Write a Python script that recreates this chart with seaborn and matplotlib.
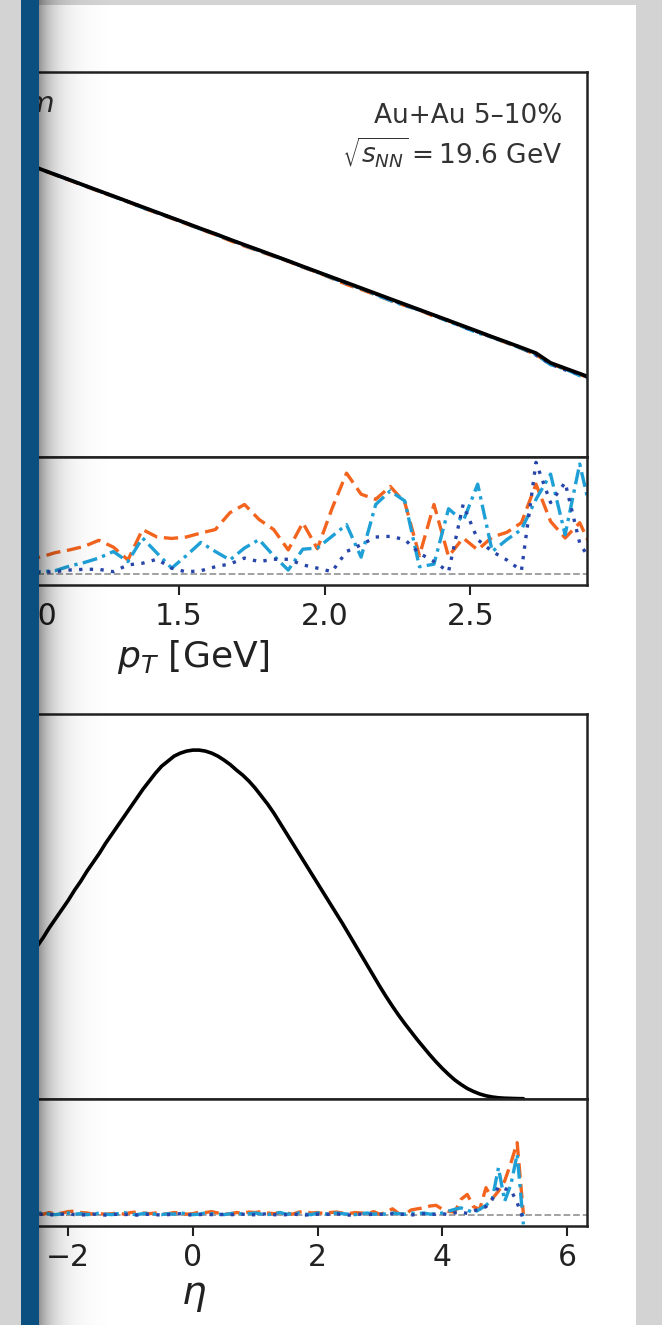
import numpy as np
import matplotlib
matplotlib.use("Agg")
import matplotlib.pyplot as plt
from matplotlib.patches import Rectangle
import seaborn as sns

# ---------------------------------------------------------------- data
# transverse-momentum spectrum (bin centres in GeV)
pt = np.round(np.arange(0.975, 2.93, 0.05), 3)
spectrum = [1.12, 0.98, 0.861, 0.757, 0.665, 0.584, 0.514, 0.451, 0.396, 0.348,
            0.306, 0.269, 0.236, 0.208, 0.182, 0.160, 0.141, 0.124, 0.109, 0.0955,
            0.0839, 0.0737, 0.0648, 0.0569, 0.0500, 0.0439, 0.0386, 0.0339, 0.0298, 0.0262,
            0.0230, 0.0202, 0.0177, 0.0156, 0.0137, 0.0120, 0.0095, 0.00835, 0.00735, 0.00646]

# relative deviation from the reference, in percent
dev_pt_a = [0.65, 0.72, 0.91, 1.03, 1.18, 1.44, 1.15, 0.60, 1.90, 1.58,
            1.52, 1.58, 1.75, 1.90, 2.62, 2.97, 2.33, 1.90, 1.03, 2.19,
            1.08, 2.79, 4.31, 3.41, 3.19, 3.74, 3.05, 0.78, 2.97, 0.75,
            1.54, 1.03, 1.58, 1.78, 2.19, 3.84, 2.25, 1.54, 2.19, 0.86]
dev_pt_b = [0.08, 0.10, 0.14, 0.34, 0.49, 0.68, 0.96, 0.53, 1.54, 0.89,
            0.25, 0.78, 1.35, 0.96, 0.60, 1.11, 1.47, 0.78, 0.17, 1.06,
            1.11, 1.61, 2.11, 0.72, 2.97, 3.55, 3.12, 0.31, 0.42, 2.79,
            2.25, 3.84, 0.96, 1.47, 1.90, 3.19, 4.27, 1.68, 4.70, 2.00]
dev_pt_c = [0.05, 0.06, 0.10, 0.17, 0.20, 0.20, 0.10, 0.39, 0.46, 0.63,
            0.25, 0.09, 0.14, 0.31, 0.43, 0.68, 0.53, 0.63, 0.63, 0.39,
            0.25, 0.10, 0.96, 1.25, 1.58, 1.61, 1.47, 0.89, 0.53, 0.10,
            2.97, 1.47, 0.96, 0.60, 0.14, 4.77, 3.05, 3.91, 1.32, 0.30]

# pseudorapidity distribution
eta = np.round(np.arange(-2.8, 5.35, 0.1), 1)
dndeta = [124, 133, 143, 152, 161, 171, 180, 189, 198, 208,
          217, 227, 236, 245, 255, 264, 273, 282, 291, 300,
          309, 317, 325, 332, 337, 342, 345, 347, 348, 348,
          347, 345, 342, 338, 333.5, 328, 323, 317, 310, 302,
          294, 285, 275, 265, 255, 245, 235, 225, 215, 205,
          195, 185, 175, 164.5, 154, 143.5, 133, 122.5, 112, 102,
          92.5, 83.5, 75, 67, 59, 51.5, 44, 37, 30.5, 24.5,
          19, 14.5, 10.5, 7.5, 5, 3.2, 2, 1.2, 0.8, 0.6,
          0.4, 0.3]

dev_eta_a = [0.09, 0.13, 0.06, 0.09, 0.04, 0.11, 0.04, 0.09, 0.15, 0.17,
             0.11, 0.09, 0.04, 0.06, 0.04, 0.06, 0.09, 0.04, 0.11, 0.13,
             0.09, 0.06, 0.09, 0.04, 0.06, 0.11, 0.09, 0.04, 0.06, 0.13,
             0.11, 0.15, 0.09, 0.04, 0.06, 0.11, 0.09, 0.13, 0.11, 0.15,
             0.09, 0.06, 0.11, 0.09, 0.04, 0.13, 0.15, 0.09, 0.11, 0.06,
             0.11, 0.13, 0.09, 0.06, 0.11, 0.09, 0.06, 0.15,
             0.03, 0.13, 0.27, 0.07, 0.03, 0.22, 0.27, 0.31, 0.39, 0.42,
             0.25, 0.16, 0.13, 0.68, 0.89, 0.36, 0.25, 1.18, 0.70, 1.03,
             1.47, 2.25, 3.12, 0.04]
dev_eta_b = [0.04, 0.09, 0.02, 0.06, 0.11, 0.04, 0.02, 0.06, 0.09, 0.04,
             0.06, 0.02, 0.04, 0.09, 0.04, 0.02, 0.06, 0.11, 0.04, 0.02,
             0.06, 0.09, 0.04, 0.02, 0.06, 0.04, 0.09, 0.06, 0.02, 0.04,
             0.09, 0.06, 0.04, 0.02, 0.06, 0.09, 0.04, 0.06, 0.09, 0.04,
             0.02, 0.06, 0.11, 0.04, 0.06, 0.09, 0.04, 0.02, 0.09, 0.06,
             0.04, 0.09, 0.06, 0.04, 0.02, 0.06, 0.09, 0.04,
             0.06, 0.04, 0.09, 0.06, 0.04, 0.09, 0.06, 0.09, 0.04, 0.06,
             0.09, 0.17, 0.25, 0.31, 0.22, 0.10, 0.25, 0.42, 0.68, 2.04,
             0.60, 1.32, 2.62, -0.40]
dev_eta_c = [0.02, 0.04, 0.00, 0.02, 0.04, 0.02, 0.00, 0.04, 0.06, 0.02,
             0.00, 0.02, 0.04, 0.02, 0.00, 0.02, 0.04, 0.02, 0.04, 0.00,
             0.02, 0.04, 0.02, 0.00, 0.02, 0.04, 0.06, 0.02, 0.00, 0.02,
             0.04, 0.02, 0.00, 0.04, 0.02, 0.02, 0.04, 0.00, 0.02, 0.04,
             0.06, 0.02, 0.00, 0.02, 0.04, 0.02, 0.00, 0.02, 0.04, 0.02,
             0.04, 0.06, 0.02, 0.00, 0.02, 0.04, 0.02, 0.04,
             0.04, 0.02, 0.06, 0.02, 0.04, 0.00, 0.04, 0.06, 0.02, 0.04,
             0.06, 0.02, 0.10, 0.13, 0.07, 0.17, 0.27, 0.36, 0.68, 1.22,
             1.13, 1.08, 0.53, -0.19]

series_colors = ["#F3641E", "#1EA0D7", "#2846AA"]
series_styles = [(0, (4.3, 2.0)), (0, (4.5, 1.6, 1.0, 1.6)), (0, (1.0, 2.2))]

# ---------------------------------------------------------------- style
sns.set_theme(style="ticks")
plt.rcParams['font.family'] = ['DejaVu Sans']
plt.rcParams['mathtext.fontset'] = 'dejavusans'
plt.rcParams['axes.edgecolor'] = '#222222'
plt.rcParams['axes.linewidth'] = 1.8
plt.rcParams['xtick.color'] = '#222222'
plt.rcParams['xtick.labelcolor'] = '#222222'

W, H = 662, 1325
fig = plt.figure(figsize=(W / 100, H / 100), dpi=100)
fig.patch.set_facecolor('#d3d3d3')


def box(x0, y0, x1, y1):
    """pixel box (origin top-left) -> figure-fraction rect"""
    return [x0 / W, 1 - y1 / H, (x1 - x0) / W, (y1 - y0) / H]


# white page
fig.patches.append(Rectangle((39 / W, 0), (636 - 39) / W, 1 - 5 / H,
                             transform=fig.transFigure, facecolor='white',
                             edgecolor='none', zorder=-5))

ax1 = fig.add_axes(box(-200, 72, 587, 457))
ax1r = fig.add_axes(box(-200, 457, 587, 585), sharex=ax1)
ax2 = fig.add_axes(box(-200, 714, 587, 1099))
ax2r = fig.add_axes(box(-200, 1099, 587, 1226), sharex=ax2)

LW = 2.4

# ---- pT spectrum
for dev, c, ls in zip([dev_pt_a, dev_pt_b, dev_pt_c], series_colors, series_styles):
    model = np.asarray(spectrum) * (1 - np.asarray(dev) / 100)
    sns.lineplot(x=pt, y=model, ax=ax1, color=c, linestyle=ls, lw=LW,
                 estimator=None, sort=False)
sns.lineplot(x=pt, y=spectrum, ax=ax1, color='black', lw=2.7,
             estimator=None, sort=False)
ax1.set_yscale('log')
ax1.set_ylim(1e-3, 10)
ax1.set_xlim(0.2, 2.9)

ax1r.axhline(0, color='#9a9a9a', ls='--', lw=1.3, zorder=1)
for dev, c, ls in zip([dev_pt_a, dev_pt_b, dev_pt_c], series_colors, series_styles):
    sns.lineplot(x=pt, y=dev, ax=ax1r, color=c, linestyle=ls, lw=LW,
                 estimator=None, sort=False)
ax1r.set_ylim(-0.47, 5.0)
ax1r.set_xticks([0.5, 1.0, 1.5, 2.0, 2.5])
ax1r.set_xlabel(r'$p_T$ [GeV]', fontsize=26, labelpad=5, color='#222222')

# ---- pseudorapidity distribution
sns.lineplot(x=eta, y=dndeta, ax=ax2, color='black', lw=2.6,
             estimator=None, sort=False)
ax2.set_ylim(0, 384)
ax2.set_xlim(-6.3, 6.32)

ax2r.axhline(0, color='#9a9a9a', ls='--', lw=1.3, zorder=1)
for dev, c, ls in zip([dev_eta_a, dev_eta_b, dev_eta_c], series_colors, series_styles):
    sns.lineplot(x=eta, y=dev, ax=ax2r, color=c, linestyle=ls, lw=LW,
                 estimator=None, sort=False)
ax2r.set_ylim(-0.47, 5.0)
ax2r.set_xticks([-6, -4, -2, 0, 2, 4, 6])
ax2r.set_xlabel(r'$\eta$', fontsize=28, labelpad=3, color='#222222')

for ax in (ax1, ax2):
    ax.tick_params(axis='x', bottom=False, labelbottom=False)
for ax in (ax1, ax1r, ax2, ax2r):
    ax.set_ylabel('')
    ax.tick_params(axis='y', left=False, labelleft=False)
    ax.set_facecolor('white')
for ax in (ax1r, ax2r):
    ax.tick_params(axis='x', direction='out', length=7, width=1.5,
                   labelsize=21.5, pad=5)

# annotations
fig.text(562 / W, 1 - 122.7 / H, 'Au+Au 5–10%', ha='right', va='baseline',
         fontsize=19, color='#333333')
fig.text(562 / W, 1 - 162.7 / H, r'$\sqrt{s_{NN}} = 19.6$ GeV', ha='right',
         va='baseline', fontsize=19, color='#333333')
fig.text(55 / W, 1 - 111.7 / H, 'Trajectum', ha='right', va='baseline',
         fontsize=21, fontstyle='italic', color='#333333')

# ---- binding edge and page shadow
ov = fig.add_axes([0, 0, 1, 1], zorder=10)
ov.set_xlim(0, W)
ov.set_ylim(H, 0)
ov.axis('off')
ov.patch.set_alpha(0)
ov.add_patch(Rectangle((0, 0), 21, H, facecolor='#d3d3d3', edgecolor='none'))
ov.add_patch(Rectangle((21, 0), 18, H, facecolor='#0B4F80', edgecolor='none'))
xs = np.arange(0, 70)
alpha = 0.42 * np.exp(-xs / 16.0)
shade = np.zeros((1, len(xs), 4))
shade[0, :, 3] = alpha
ov.imshow(shade, extent=(39, 109, H, 0), aspect='auto', interpolation='bilinear')

fig.savefig('out.png', dpi=100, facecolor=fig.get_facecolor())
